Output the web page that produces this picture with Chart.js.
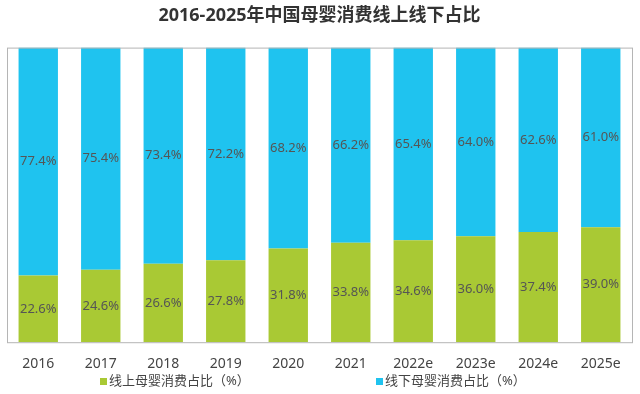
<!DOCTYPE html>
<html>
<head>
<meta charset="utf-8">
<script src="https://cdn.jsdelivr.net/npm/chart.js@4"></script>
<style>
  html, body { margin: 0; padding: 0; background: #fff; }
  #wrap { width: 640px; height: 394px; }
</style>
</head>
<body>
<div id="wrap"><canvas id="chart1"></canvas></div>
<script>
let years = ['2016', '2017', '2018', '2019', '2020', '2021', '2022e', '2023e', '2024e', '2025e'];
let online = [22.6, 24.6, 26.6, 27.8, 31.8, 33.8, 34.6, 36.0, 37.4, 39.0];
let offline = [77.4, 75.4, 73.4, 72.2, 68.2, 66.2, 65.4, 64.0, 62.6, 61.0];
let seriesNames = ['线上母婴消费占比（%）', '线下母婴消费占比（%）'];
let colors = ['#a9c934', '#1fc3ef'];

const fontFamily = '"Noto Sans", "Noto Sans CJK SC", sans-serif';

// labels in the middle of each segment + box round the plot + legend
const extras = {
    id: 'extras',
    afterDatasetsDraw(chart) {
        const ctx = chart.ctx;
        ctx.save();
        ctx.font = '13px ' + fontFamily;
        ctx.fillStyle = '#555';
        ctx.textAlign = 'center';
        ctx.textBaseline = 'middle';
        chart.data.datasets.forEach((ds, i) => {
            chart.getDatasetMeta(i).data.forEach((bar, j) => {
                const mid = (bar.y + bar.base) / 2;
                ctx.fillText(ds.data[j].toFixed(1) + '%', bar.x, mid);
            });
        });
        ctx.restore();
    },
    afterDraw(chart) {
        const ctx = chart.ctx;
        const a = chart.chartArea;
        ctx.save();
        ctx.strokeStyle = '#b5b5b5';
        ctx.lineWidth = 1;
        ctx.strokeRect(a.left + 0.5, a.top + 0.5, a.right - a.left, a.bottom - a.top);
        // legend
        ctx.font = '13px ' + fontFamily;
        ctx.textBaseline = 'middle';
        ctx.textAlign = 'left';
        const legendY = 381;
        const legendX = [100, 376];
        seriesNames.forEach((name, i) => {
            ctx.fillStyle = colors[i];
            ctx.fillRect(legendX[i], legendY - 3, 7, 7);
            ctx.fillStyle = '#444';
            ctx.fillText(name, legendX[i] + 9, legendY);
        });
        ctx.restore();
    }
};

const chart1 = document.getElementById('chart1').getContext('2d');
new Chart(chart1, {
    type: 'bar',
    data: {
        labels: years,
        datasets: [
            {
                label: seriesNames[0],
                data: online,
                backgroundColor: colors[0],
                barPercentage: 0.63,
                categoryPercentage: 1
            },
            {
                label: seriesNames[1],
                data: offline,
                backgroundColor: colors[1],
                barPercentage: 0.63,
                categoryPercentage: 1
            }
        ]
    },
    options: {
        responsive: true,
        maintainAspectRatio: false,
        animation: false,
        layout: {
            padding: { left: 7, right: 8, top: 0, bottom: 17 }
        },
        scales: {
            x: {
                stacked: true,
                grid: { display: false },
                border: { display: false },
                ticks: {
                    padding: 5,
                    color: '#444',
                    font: { size: 14, family: fontFamily }
                }
            },
            y: {
                stacked: true,
                display: false,
                min: 0,
                max: 100
            }
        },
        plugins: {
            legend: { display: false },
            tooltip: { enabled: false },
            title: {
                display: true,
                text: '2016-2025年中国母婴消费线上线下占比',
                color: '#333',
                font: { size: 18, weight: 'bold', family: fontFamily },
                padding: { top: 5, bottom: 21 }
            }
        }
    },
    plugins: [extras]
});
</script>
</body>
</html>
